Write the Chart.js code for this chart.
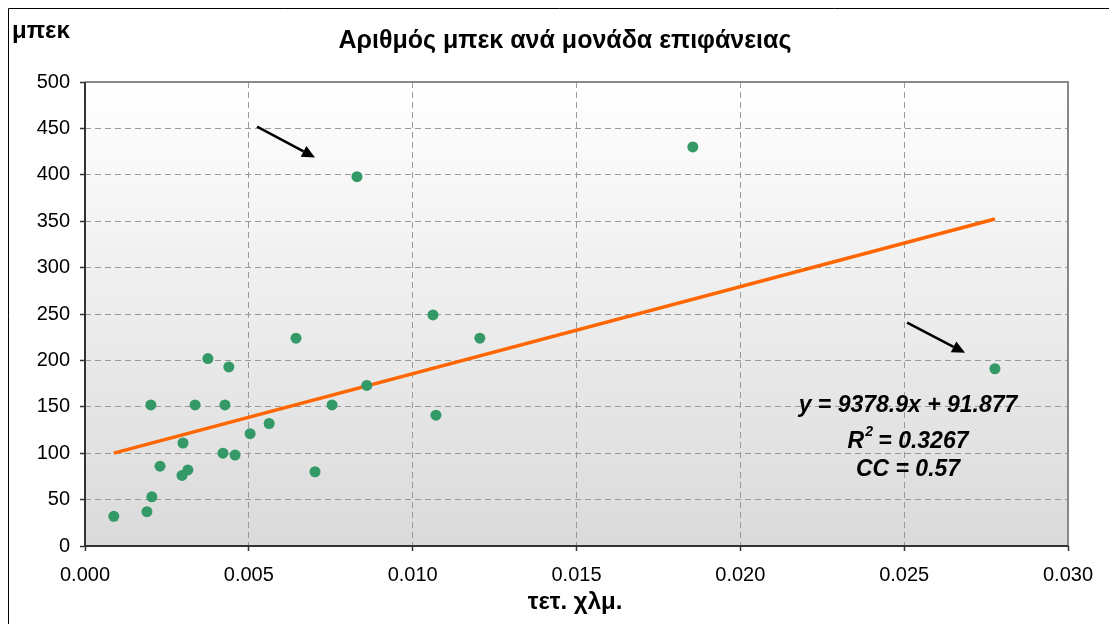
<!DOCTYPE html>
<html>
<head>
<meta charset="utf-8">
<script src="https://cdn.jsdelivr.net/npm/chart.js@4.4.0/dist/chart.umd.min.js"></script>
<style>
  body { margin: 0; background: #fff; }
  #wrap { width: 1109px; height: 624px; }
</style>
</head>
<body>
<div id="wrap"><canvas id="mpekChart" width="1109" height="624"></canvas></div>
<script>
// Εμβαδόν (τετ. χλμ.) και αριθμός μπεκ ανά περιοχή
const areaKm2 = [0.00088, 0.00189, 0.00204, 0.00229, 0.00201, 0.00299, 0.00296, 0.00314,
  0.00336, 0.00375, 0.00421, 0.00427, 0.00439, 0.00458, 0.00504, 0.00562, 0.00644,
  0.00702, 0.00754, 0.0083, 0.0086, 0.01062, 0.01071, 0.01205, 0.01855, 0.02777];
const mpekCount = [32, 37, 53, 86, 152, 111, 76, 82, 152, 202, 100, 152, 193, 98, 121, 132,
  224, 80, 152, 398, 173, 249, 141, 224, 430, 191];

// γραμμική τάση (Excel)
const trendSlope = 9378.9;
const trendIntercept = 91.877;
const trendLabels = ['y = 9378.9x + 91.877', 'R', '2', ' = 0.3267', 'CC = 0.57'];

// βέλη: [x από, y από, x έως, y έως]
const arrows = [
  [0.00525, 452, 0.00702, 418.6],
  [0.02509, 240.6, 0.02686, 208.2]
];

const xMin = Math.min(...areaKm2);
const xMax = Math.max(...areaKm2);
const trendPoints = [xMin, xMax].map(x => ({ x: x, y: trendSlope * x + trendIntercept }));

const FONT = "'Liberation Sans', Arial, sans-serif";

const plotBg = {
  id: 'plotBg',
  beforeDraw(chart) {
    const { ctx, chartArea: a } = chart;
    const g = ctx.createLinearGradient(0, a.top, 0, a.bottom);
    g.addColorStop(0, '#ffffff');
    g.addColorStop(1, '#dadada');
    ctx.save();
    ctx.fillStyle = g;
    ctx.fillRect(a.left, a.top, a.right - a.left, a.bottom - a.top);
    // εξωτερικό πλαίσιο
    ctx.strokeStyle = '#000';
    ctx.lineWidth = 1;
    ctx.beginPath();
    ctx.moveTo(8.5, 700);
    ctx.lineTo(8.5, 8.5);
    ctx.lineTo(1200, 8.5);
    ctx.stroke();
    ctx.restore();
  },
  beforeDatasetsDraw(chart) {
    const { ctx, chartArea: a } = chart;
    ctx.save();
    // πλαίσιο περιοχής σχεδίασης και άξονες
    ctx.strokeStyle = '#888';
    ctx.lineWidth = 2;
    ctx.beginPath();
    ctx.moveTo(a.left, a.top);
    ctx.lineTo(a.right, a.top);
    ctx.lineTo(a.right, a.bottom);
    ctx.stroke();
    ctx.strokeStyle = '#333';
    ctx.beginPath();
    ctx.moveTo(a.left, a.top);
    ctx.lineTo(a.left, a.bottom);
    ctx.lineTo(a.right, a.bottom);
    ctx.stroke();
    ctx.restore();
  }
};

const texts = {
  id: 'texts',
  afterDraw(chart) {
    const { ctx, scales } = chart;
    const sx = scales.x, sy = scales.y;
    ctx.save();
    ctx.fillStyle = '#000';
    ctx.textBaseline = 'alphabetic';

    ctx.font = 'bold 25px ' + FONT;
    ctx.textAlign = 'center';
    ctx.fillText('Αριθμός μπεκ ανά μονάδα επιφάνειας', 565, 48);

    ctx.font = 'bold 24px ' + FONT;
    ctx.textAlign = 'left';
    ctx.fillText('μπεκ', 12, 38);

    ctx.textAlign = 'center';
    ctx.fillText('τετ. χλμ.', 575, 609);

    // εξίσωση τάσης
    ctx.font = 'italic bold 23px ' + FONT;
    ctx.fillText(trendLabels[0], 908, 412);
    const wR = ctx.measureText(trendLabels[1]).width;
    const wRest = ctx.measureText(trendLabels[3]).width;
    ctx.font = 'italic bold 14px ' + FONT;
    const w2 = ctx.measureText(trendLabels[2]).width;
    let x0 = 908 - (wR + w2 + wRest) / 2;
    ctx.textAlign = 'left';
    ctx.font = 'italic bold 23px ' + FONT;
    ctx.fillText(trendLabels[1], x0, 448);
    ctx.font = 'italic bold 14px ' + FONT;
    ctx.fillText(trendLabels[2], x0 + wR + 1, 436);
    ctx.font = 'italic bold 23px ' + FONT;
    ctx.fillText(trendLabels[3], x0 + wR + w2, 448);
    ctx.textAlign = 'center';
    ctx.fillText(trendLabels[4], 908, 476);

    // βέλη
    ctx.strokeStyle = '#000';
    ctx.lineWidth = 2.5;
    arrows.forEach(a => {
      const x1 = sx.getPixelForValue(a[0]), y1 = sy.getPixelForValue(a[1]);
      const x2 = sx.getPixelForValue(a[2]), y2 = sy.getPixelForValue(a[3]);
      const ang = Math.atan2(y2 - y1, x2 - x1);
      const hl = 13, hw = 6;
      const bx = x2 - hl * Math.cos(ang), by = y2 - hl * Math.sin(ang);
      ctx.beginPath();
      ctx.moveTo(x1, y1);
      ctx.lineTo(bx, by);
      ctx.stroke();
      ctx.beginPath();
      ctx.moveTo(x2, y2);
      ctx.lineTo(bx + hw * Math.sin(ang), by - hw * Math.cos(ang));
      ctx.lineTo(bx - hw * Math.sin(ang), by + hw * Math.cos(ang));
      ctx.closePath();
      ctx.fill();
    });
    ctx.restore();
  }
};

const gridOpts = {
  color: '#999',
  lineWidth: 1,
  tickColor: '#333',
  tickLength: 5,
  tickWidth: 1.5,
  tickBorderDash: []
};

new Chart(document.getElementById('mpekChart'), {
  type: 'scatter',
  data: {
    datasets: [{
      label: 'μπεκ',
      data: areaKm2.map((x, i) => ({ x: x, y: mpekCount[i] })),
      backgroundColor: '#339966',
      borderWidth: 0,
      pointRadius: 5.5,
      order: 0
    }, {
      label: 'Γραμμική τάση',
      data: trendPoints,
      showLine: true,
      borderColor: '#ff6600',
      borderWidth: 3.5,
      pointRadius: 0,
      order: 1
    }]
  },
  options: {
    responsive: false,
    animation: false,
    layout: { padding: { left: 0, top: 82, right: 41, bottom: 0 } },
    plugins: {
      legend: { display: false },
      tooltip: { enabled: false }
    },
    scales: {
      x: {
        type: 'linear',
        min: 0,
        max: 0.03,
        afterFit(s) { s.height = 78; },
        ticks: {
          stepSize: 0.005,
          padding: 12,
          color: '#000',
          font: { family: FONT, size: 20 },
          maxRotation: 0,
          callback: v => v.toFixed(3)
        },
        grid: gridOpts,
        // στο v4 η διακεκομμένη γραμμή πλέγματος δίνεται από το border.dash
        border: { display: false, dash: [6, 4] }
      },
      y: {
        min: 0,
        max: 500,
        afterFit(s) { s.width = 85; },
        ticks: {
          stepSize: 50,
          padding: 10,
          color: '#000',
          font: { family: FONT, size: 20 }
        },
        grid: gridOpts,
        border: { display: false, dash: [6, 4] }
      }
    }
  },
  plugins: [plotBg, texts]
});
</script>
</body>
</html>
